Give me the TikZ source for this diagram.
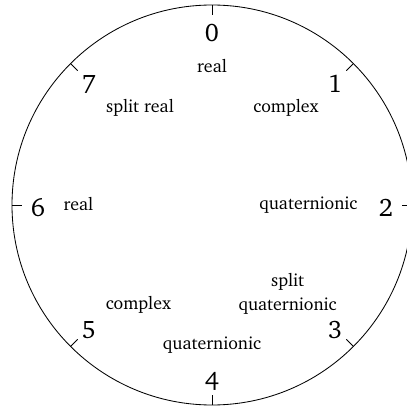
\documentclass[tikz,border=0pt]{standalone}
\usepackage[T1]{fontenc}
\usepackage{charter}
\usepackage{tikz}
\usetikzlibrary{positioning}

\tikzset{
  digit/.style={font=\fontsize{18}{20}\selectfont, inner sep=0pt},
  kind/.style={font=\fontsize{12.7}{17.7}\selectfont, inner sep=0pt, align=center},
}

\begin{document}
\begin{tikzpicture}
  \useasboundingbox (-5.3,-5.075) rectangle (4.85,5.125);
  \draw[line width=0.6pt] (0,0) circle (5);
  % Ticks and numbers
  \foreach \i in {0,...,7} {
    \draw[line width=0.6pt] ({90-45*\i}:5) -- ({90-45*\i}:4.75);
    \node[digit] (d\i) at ({90-45*\i}:4.35) [yshift=-0.06cm] {\i};
  }
  % Labels
  \node[kind, anchor=base] (k0) at (0,3.31) {real};
  \node[kind, anchor=base] (k1) at (1.85,2.30) {complex};
  \node[kind, anchor=base] (k2) at (2.41,-0.125) {quaternionic};
  \node[kind] (k3) at (1.89,-2.22) {split\\quaternionic};
  \node[kind, anchor=base] (k4) at (0,-3.62) {quaternionic};
  \node[kind, anchor=base] (k5) at (-1.84,-2.62) {complex};
  \node[kind, anchor=base] (k6) at (-3.34,-0.14) {real};
  \node[kind, anchor=base] (k7) at (-1.80,2.30) {split real};
\end{tikzpicture}
\end{document}
